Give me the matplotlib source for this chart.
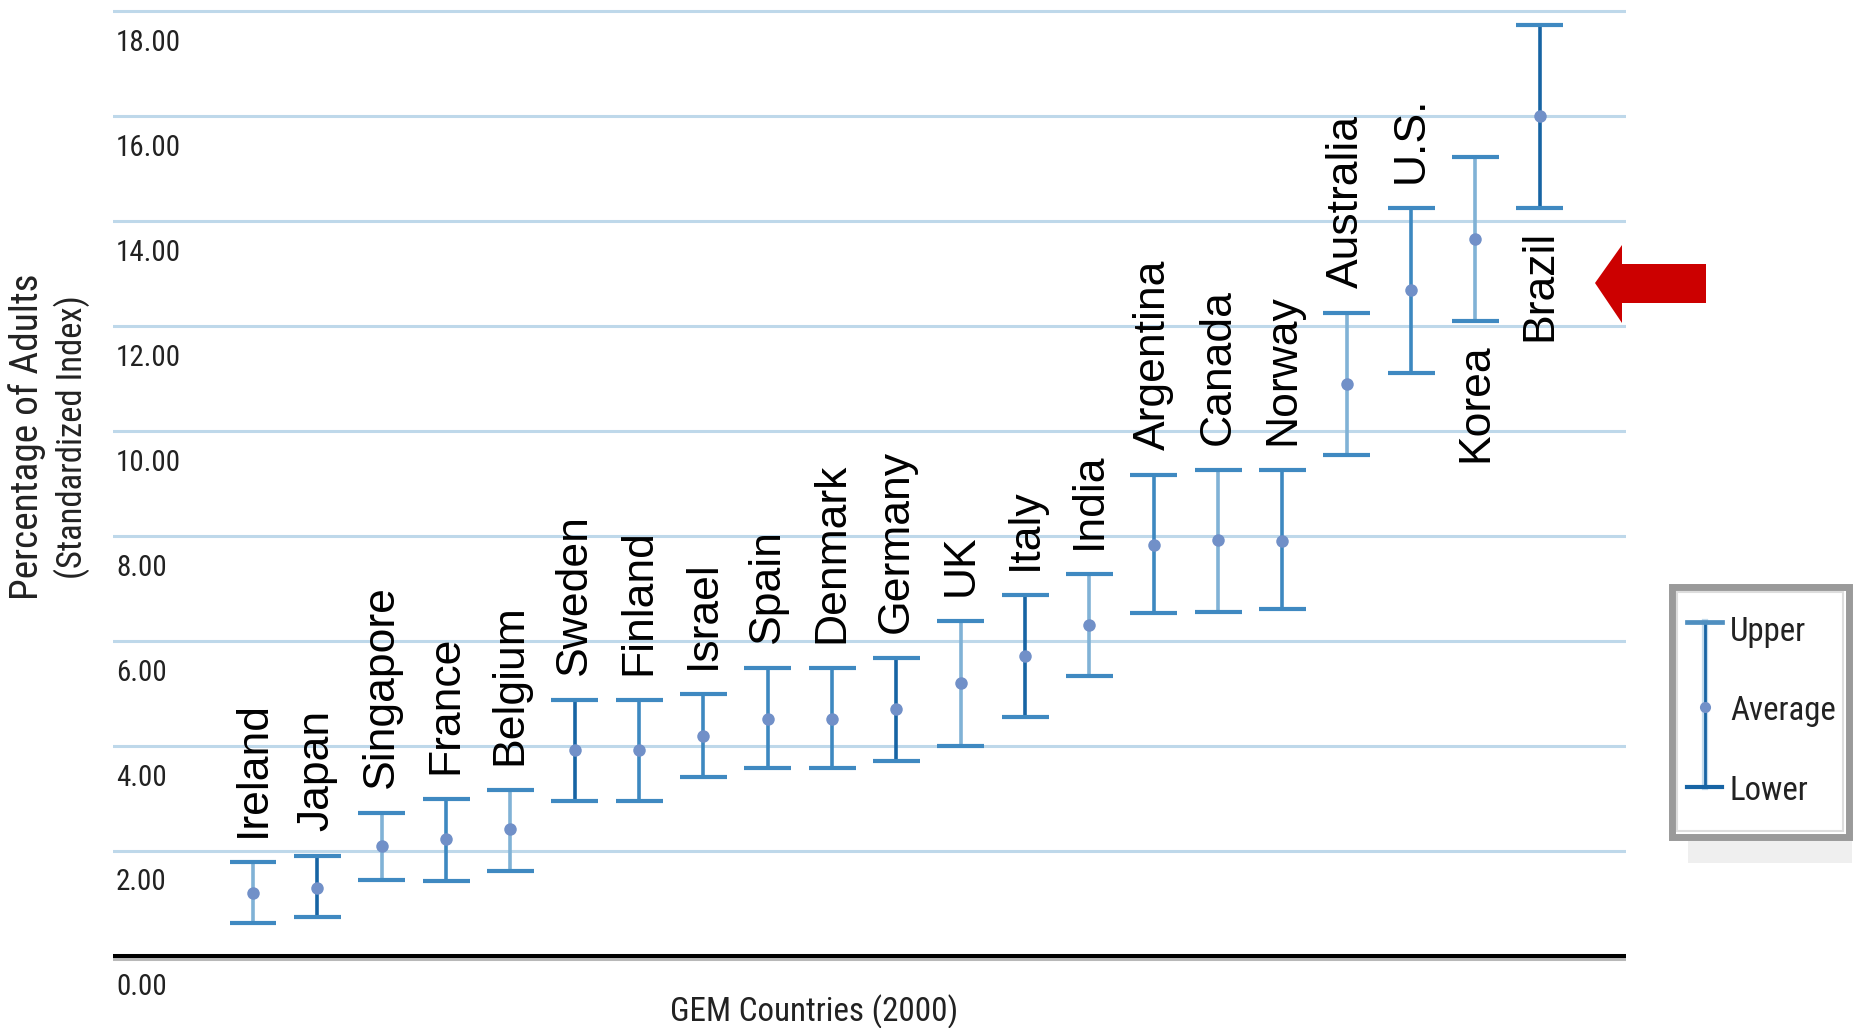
import os
import matplotlib
matplotlib.use("Agg")
import matplotlib.pyplot as plt
from matplotlib import font_manager
from matplotlib.font_manager import FontProperties
from matplotlib.textpath import TextToPath
from matplotlib.lines import Line2D
from matplotlib.patches import Polygon, Rectangle
import matplotlib.patheffects as pe
import matplotlib.transforms as mtransforms

# ---------------- data ----------------
countries = ["Ireland", "Japan", "Singapore", "France", "Belgium", "Sweden",
             "Finland", "Israel", "Spain", "Denmark", "Germany", "UK", "Italy",
             "India", "Argentina", "Canada", "Norway", "Australia", "U.S.",
             "Korea", "Brazil"]
upper = [1.78, 1.90, 2.72, 2.99, 3.16, 4.87, 4.87, 4.99, 5.49, 5.49, 5.67,
         6.38, 6.87, 7.28, 9.16, 9.26, 9.26, 12.25, 14.26, 15.23, 17.74]
average = [1.19, 1.29, 2.09, 2.22, 2.41, 3.92, 3.92, 4.19, 4.51, 4.51, 4.71,
           5.19, 5.71, 6.30, 7.83, 7.92, 7.91, 10.90, 12.69, 13.66, 16.00]
lower = [0.62, 0.74, 1.44, 1.42, 1.61, 2.95, 2.95, 3.41, 3.57, 3.57, 3.71,
         4.00, 4.55, 5.34, 6.53, 6.56, 6.60, 9.54, 11.10, 12.09, 14.26]
labels_below = ["Korea", "Brazil"]
y_ticks = [0, 2, 4, 6, 8, 10, 12, 14, 16, 18]
y_tick_labels = ["0.00", "2.00", "4.00", "6.00", "8.00", "10.00", "12.00",
                 "14.00", "16.00", "18.00"]
legend_labels = ["Upper", "Average", "Lower"]
x_label = "GEM Countries (2000)"
y_label_1 = "Percentage of Adults"
y_label_2 = "(Standardized Index)"

# ---------------- styles ----------------
DARK = "#1764a4"
MED = "#3d88c0"
LIGHT = "#80b2d6"
stem_colors = [LIGHT, DARK, LIGHT, MED, LIGHT, DARK, MED, MED, MED, MED, DARK,
               LIGHT, DARK, LIGHT, MED, LIGHT, MED, LIGHT, MED, LIGHT, DARK]
CAP = "#3f89c1"
MARKER = "#7190c8"
GRID = "#bed8ea"
TXT = "#222222"

names = {f.name for f in font_manager.fontManager.ttflist}
SANS = "Liberation Sans" if "Liberation Sans" in names else "DejaVu Sans"

# look for a condensed sans face among installed files
prefs = ["liberationsansnarrow-regular", "robotocondensed-regular",
         "roboto_condensed-regular", "opensans_condensed-regular",
         "opensanscondensed-regular", "opensans-condensedregular",
         "notosans-condensed.", "notosans-condensedregular",
         "dejavusanscondensed."]
cond_path = None
files = [f.fname for f in font_manager.fontManager.ttflist]
for p in prefs:
    for fn in files:
        if p in os.path.basename(fn).lower().replace(" ", ""):
            cond_path = fn
            break
    if cond_path:
        break


def cprop(size):
    if cond_path:
        return FontProperties(fname=cond_path, size=size)
    return FontProperties(family=SANS, size=size)


W, H, DPI = 1854, 1028, 100
t2p = TextToPath()


def fit(text, target_w_px, max_em_px):
    """font size (pt) so that text width ~ target, limited by em height."""
    p = cprop(100)
    w, h, d = t2p.get_text_width_height_descent(text, p, ismath=False)
    w_px_at_100 = w * DPI / 72.0
    size_w = 100 * target_w_px / w_px_at_100
    size_h = max_em_px * 72.0 / DPI
    return min(size_w, size_h)


fig = plt.figure(figsize=(W / DPI, H / DPI), dpi=DPI)
fig.patch.set_facecolor("white")


def fx(px):
    return px / W


def fy(py):
    return 1 - py / H


ax = fig.add_axes([0.06095, 0.0643, 0.8161, 0.93064])
ax.set_xlim(-2.176, 21.34)
ax.set_ylim(-0.12, 18.12)
for s in ax.spines.values():
    s.set_visible(False)
ax.set_xticks([])
ax.set_yticks([])

# grid lines
for v in y_ticks[1:]:
    ax.axhline(v, color=GRID, lw=2.2, zorder=1)
ax.axhline(0, color="black", lw=2.9, zorder=2,
           path_effects=[pe.SimpleLineShadow(offset=(0, -2.2), shadow_color="#b8b8b8", alpha=1.0),
                         pe.Normal()])

# tick labels (below their grid line, inside the axes)
tick_size = fit("18.00", 65, 40)
blend = mtransforms.blended_transform_factory(ax.transAxes, ax.transData)
for v, lab in zip(y_ticks, y_tick_labels):
    ax.annotate(lab, xy=(0, v), xycoords=blend, xytext=(2.2, -28.6),
                textcoords="offset points", ha="left", va="baseline",
                fontproperties=cprop(tick_size), color=TXT)

# error bars
xs = list(range(len(countries)))
half = 0.365
for i in xs:
    ax.vlines(i, lower[i], upper[i], colors=stem_colors[i], lw=2.6, zorder=3)
    ax.hlines([upper[i], lower[i]], i - half, i + half, colors=CAP, lw=3.0, zorder=3)
ax.plot(xs, average, "o", ms=9, color=MARKER, mec="none", zorder=4)

# country labels
for i, name in enumerate(countries):
    if name in labels_below:
        ax.annotate(name, xy=(i, lower[i]), xytext=(0, -16), textcoords="offset points",
                    rotation=90, ha="center", va="top", fontsize=32, family=SANS,
                    color="black")
    else:
        ax.annotate(name, xy=(i, upper[i]), xytext=(0, 18), textcoords="offset points",
                    rotation=90, ha="center", va="bottom", fontsize=32, family=SANS,
                    color="black")

# axis titles
fig.text(fx(814), fy(1021), x_label, ha="center", va="baseline",
         fontproperties=cprop(fit(x_label, 288, 40)), color=TXT)
fig.text(fx(27), fy(437), y_label_1, ha="center", va="center", rotation=90,
         fontproperties=cprop(fit(y_label_1, 327, 44)), color=TXT)
fig.text(fx(72), fy(437), y_label_2, ha="center", va="center", rotation=90,
         fontproperties=cprop(fit(y_label_2, 284, 38)), color=TXT)

# red arrow
arrow_px = [(1595, 283), (1622, 245), (1622, 264), (1706, 264), (1706, 303),
            (1622, 303), (1622, 323)]
fig.add_artist(Polygon([(fx(a), fy(b)) for a, b in arrow_px], closed=True,
                       facecolor="#cc0000", edgecolor="none",
                       transform=fig.transFigure))

# legend box
fig.add_artist(Rectangle((fx(1688), fy(863)), fx(1852) - fx(1688), fy(840) - fy(863),
                         facecolor="#efefef", edgecolor="none", transform=fig.transFigure,
                         zorder=1))
fig.add_artist(Rectangle((fx(1671.5), fy(836.5)), fx(1848.5) - fx(1671.5),
                         fy(586.5) - fy(836.5), facecolor="white", edgecolor="#9a9a9a",
                         lw=5.0, transform=fig.transFigure, zorder=2))
fig.add_artist(Rectangle((fx(1677), fy(831)), fx(1843) - fx(1677), fy(592) - fy(831),
                         facecolor="none", edgecolor="#dddddd", lw=1.5,
                         transform=fig.transFigure, zorder=2))
lx = 1704.5
fig.add_artist(Line2D([fx(lx), fx(lx)], [fy(622), fy(787)], color="#c3dbec", lw=4.5,
                      transform=fig.transFigure, zorder=3))
fig.add_artist(Line2D([fx(lx), fx(lx)], [fy(622), fy(787)], color=DARK, lw=2.0,
                      transform=fig.transFigure, zorder=3))
fig.add_artist(Line2D([fx(1687), fx(1722)], [fy(622), fy(622)], color="#4f8fc0", lw=3.4,
                      transform=fig.transFigure, zorder=3))
fig.add_artist(Line2D([fx(1687), fx(1722)], [fy(787), fy(787)], color=DARK, lw=3.0,
                      transform=fig.transFigure, zorder=3))
fig.add_artist(Line2D([fx(lx)], [fy(707)], marker="o", ms=8, color=MARKER, mec="none",
                      transform=fig.transFigure, zorder=4))
leg_size = fit("Average", 106, 40)
for lab, base in zip(legend_labels, [641, 720, 800]):
    fig.text(fx(1730), fy(base), lab, ha="left", va="baseline",
             fontproperties=cprop(leg_size), color=TXT, zorder=5)

fig.savefig("out.png", dpi=DPI, facecolor="white")
